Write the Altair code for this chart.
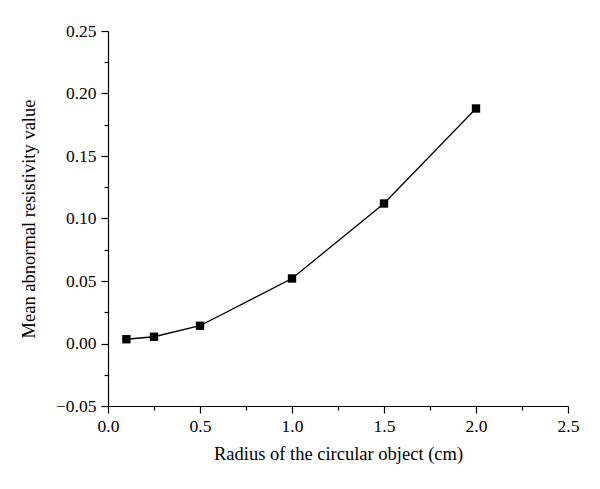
import altair as alt
import pandas as pd

radius = [0.1, 0.25, 0.5, 1.0, 1.5, 2.0]
value = [0.0034, 0.0054, 0.0142, 0.052, 0.112, 0.188]

x_major = [0.0, 0.5, 1.0, 1.5, 2.0, 2.5]
x_minor = [0.25, 0.75, 1.25, 1.75, 2.25]
y_major = [-0.05, 0.0, 0.05, 0.10, 0.15, 0.20, 0.25]
y_minor = [-0.025, 0.025, 0.075, 0.125, 0.175, 0.225]

df = pd.DataFrame({"r": radius, "v": value})

FONT = "Liberation Serif"

xscale = alt.Scale(domain=[0, 2.5], nice=False, zero=False)
yscale = alt.Scale(domain=[-0.05, 0.25], nice=False, zero=False)

base = alt.Chart(df)

line = base.mark_line(color="black", strokeWidth=1.3).encode(
    x=alt.X("r:Q", scale=xscale,
            axis=alt.Axis(orient="bottom", values=x_major, format=".1f", tickSize=7,
                          tickColor="black", domainColor="black", labelColor="black",
                          labelFont=FONT, labelFontSize=17.5, labelPadding=4,
                          labelFlush=False, labelOverlap=False,
                          titleFont=FONT, titleFontSize=18.5, titleFontWeight="normal",
                          titleColor="black", titlePadding=10, grid=False,
                          title="Radius of the circular object (cm)")),
    y=alt.Y("v:Q", scale=yscale,
            axis=alt.Axis(orient="left", values=y_major, format=".2f", tickSize=7,
                          tickColor="black", domainColor="black", labelColor="black",
                          labelFont=FONT, labelFontSize=17.5, labelPadding=5,
                          labelFlush=False, labelOverlap=False,
                          titleFont=FONT, titleFontSize=18.5, titleFontWeight="normal",
                          titleColor="black", titlePadding=17, grid=False,
                          title="Mean abnormal resistivity value")),
)

points = base.mark_point(shape="square", filled=True, color="black", size=70, opacity=1).encode(
    x=alt.X("r:Q", scale=xscale,
            axis=alt.Axis(orient="bottom", values=x_minor, tickSize=4, labels=False,
                          domain=False, tickColor="black", grid=False, title=None)),
    y=alt.Y("v:Q", scale=yscale,
            axis=alt.Axis(orient="left", values=y_minor, tickSize=4, labels=False,
                          domain=False, tickColor="black", grid=False, title=None)),
)

chart = alt.layer(line, points).resolve_axis(x="independent", y="independent").properties(
    width=460, height=375,
    autosize=alt.AutoSizeParams(type="none"),
    padding={"left": 100, "top": 23, "right": 24, "bottom": 75},
).configure_view(stroke=None).configure_axis(domainWidth=1.2, tickWidth=1.2)

chart.save("out.html", embed_options={"renderer": "svg", "actions": False})
